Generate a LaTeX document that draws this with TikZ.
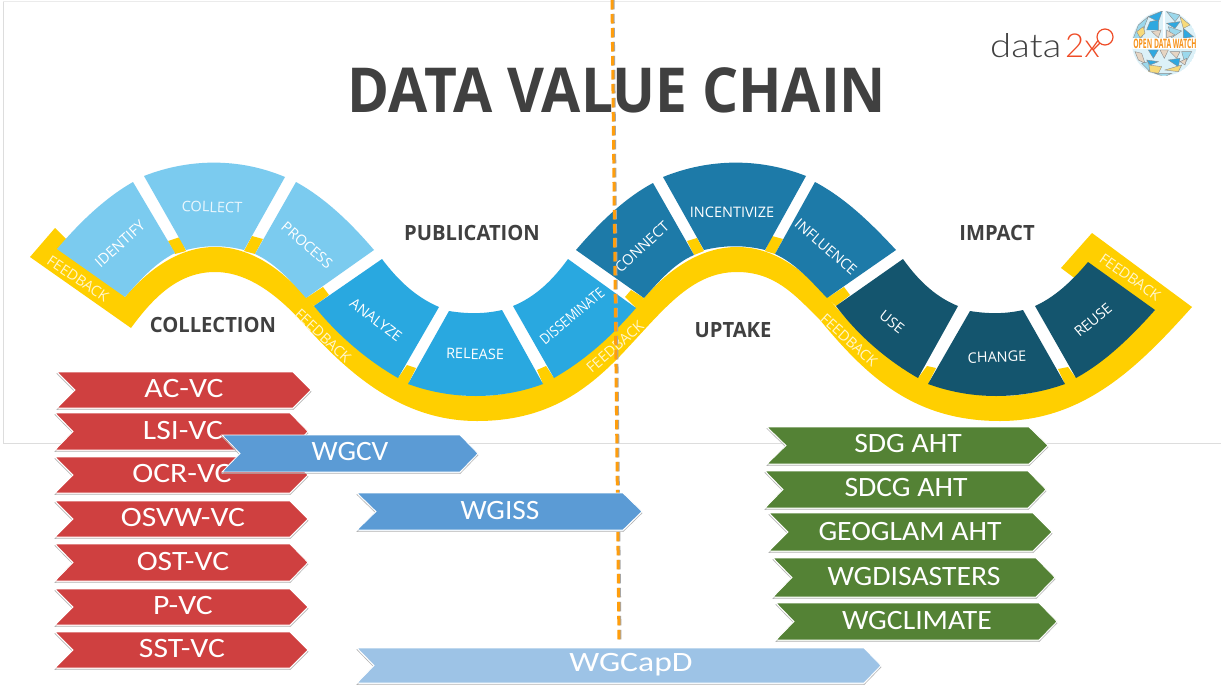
\documentclass[tikz,border=0pt]{standalone}
\usepackage{fontspec}
\usepackage{xcolor}
\usepackage{tikz}
\setmainfont{Open Sans}
\newfontfamily\carlitofont{Carlito}
\newfontfamily\latofont{Lato Light}
\definecolor{ink}{HTML}{404040}
\definecolor{frameline}{HTML}{DDDDDD}
\definecolor{gold}{HTML}{FFCF00}
\definecolor{paleband}{HTML}{FFF6CC}
\definecolor{skyseg}{HTML}{7BCBEF}
\definecolor{midseg}{HTML}{29A8E0}
\definecolor{deepseg}{HTML}{1D7AA8}
\definecolor{navyseg}{HTML}{14556E}
\definecolor{redchev}{HTML}{CF4040}
\definecolor{bluechev}{HTML}{5B9BD5}
\definecolor{palechev}{HTML}{9DC3E6}
\definecolor{greenchev}{HTML}{548235}
\definecolor{dashline}{HTML}{FF9E0D}
\definecolor{logored}{HTML}{EF4B26}
\definecolor{logoorange}{HTML}{F7941D}
\definecolor{logosky}{HTML}{9BD8EC}
\definecolor{logoblue}{HTML}{2FA8E0}
\definecolor{logoyellow}{HTML}{F7DA7A}
\definecolor{logobeige}{HTML}{E6D5C3}
\tikzset{
  every picture/.style={line join=miter},
  ribbon/.style={fill=gold},
  sky/.style={fill=skyseg},
  mid/.style={fill=midseg},
  deep/.style={fill=deepseg},
  navy/.style={fill=navyseg},
  logotri/.style={draw=black!45, line width=0.4pt},
  seglab/.style={text=white, font=\fontsize{14.5}{16}\selectfont, inner sep=0pt},
  bandlab/.style={text=paleband, font=\fontsize{14.5}{16}\selectfont, inner sep=0pt},
  stagelab/.style={text=ink, font=\fontsize{21}{22}\bfseries\selectfont, inner sep=0pt, xscale=0.96},
  chevlab/.style={text=white, font=\fontsize{28}{29}\carlitofont\selectfont, inner sep=0pt},
  chevshade/.style={draw=black!30, line width=0.6pt},
  chevred/.style={fill=redchev, draw=white, line width=0.8pt},
  chevblue/.style={fill=bluechev, draw=white, line width=0.8pt},
  chevpale/.style={fill=palechev, draw=white, line width=0.8pt},
  chevgreen/.style={fill=greenchev, draw=white, line width=0.8pt}
}
\newcommand{\ChevBox}[6]{%
  % #1 = style, #2 = left, #3 = tip, #4 = top, #5 = bottom, #6 = depth
  \pgfmathsetmacro{\ChevMid}{(#4+#5)/2}
  \draw[chevshade, yshift=-1.6pt] (#2,#4) -- ({#3-#6},#4) -- (#3,\ChevMid) -- ({#3-#6},#5) -- (#2,#5) -- ({#2+#6},\ChevMid) -- cycle;
  \draw[#1] (#2,#4) -- ({#3-#6},#4) -- (#3,\ChevMid) -- ({#3-#6},#5) -- (#2,#5) -- ({#2+#6},\ChevMid) -- cycle;
}

\begin{document}
\begin{tikzpicture}[x=1pt, y=-1pt]
  \useasboundingbox (0,0) rectangle (1225,685);
  \fill[white] (0,0) rectangle (1225,685);
  \draw[frameline, line width=0.8pt] (3,1) -- (3,443) -- (1221,443);
  \draw[frameline!60, line width=0.8pt] (3,1) -- (1221,1);

  % title
  \node[text=ink, font=\fontsize{62}{64}\bfseries\selectfont, inner sep=0pt, xscale=0.917] (title) at (617,90) {DATA VALUE CHAIN};

  % logos
  \node[text=ink, font=\fontsize{33}{34}\latofont\selectfont, inner sep=0pt, anchor=base west, xscale=1.16] (dataword) at (990,58) {data};
  \node[text=logored, font=\fontsize{33}{34}\latofont\selectfont, inner sep=0pt, anchor=base west] (twox) at (1065,58) {2x};
  \draw[logored, line width=1.2pt] (1105,37) circle (8);
  \draw[logored, line width=1.2pt] (1093,50) -- (1100,43);

  \begin{scope}[shift={(1125,5)}, x=0.3333pt, y=-0.3333pt]
    \begin{scope}
      \clip (118,115) circle (97);
      \fill[logosky!35] (118,115) circle (97);
      \filldraw[logotri, fill=logosky] (25,100) -- (40,60) -- (70,35) -- (60,60) -- (50,100) -- cycle;
      \filldraw[logotri, fill=logoyellow] (35,80) -- (55,65) -- (60,85) -- (45,98) -- cycle;
      \filldraw[logotri, fill=logoblue] (70,35) -- (112,18) -- (100,50) -- cycle;
      \filldraw[logotri, fill=logoblue] (75,50) -- (100,45) -- (100,75) -- (65,75) -- cycle;
      \filldraw[logotri, fill=logobeige] (80,80) -- (108,75) -- (100,98) -- cycle;
      \filldraw[logotri, fill=logosky] (125,20) -- (165,30) -- (150,50) -- cycle;
      \filldraw[logotri, fill=logoyellow] (165,35) -- (195,60) -- (175,70) -- cycle;
      \filldraw[logotri, fill=logoblue] (125,55) -- (165,50) -- (150,70) -- cycle;
      \filldraw[logotri, fill=logoblue] (175,70) -- (205,95) -- (175,100) -- cycle;
      \filldraw[logotri, fill=logosky] (130,65) -- (170,78) -- (140,98) -- cycle;
      \filldraw[logotri, fill=logobeige] (125,75) -- (150,90) -- (125,98) -- cycle;
      \filldraw[logotri, fill=logobeige] (30,140) -- (50,145) -- (60,175) -- (40,165) -- cycle;
      \filldraw[logotri, fill=logoblue] (70,135) -- (100,135) -- (85,160) -- cycle;
      \filldraw[logotri, fill=logoyellow] (70,180) -- (110,185) -- (100,205) -- (70,200) -- cycle;
      \filldraw[logotri, fill=logosky] (50,175) -- (70,170) -- (75,200) -- cycle;
      \filldraw[logotri, fill=logoblue] (65,165) -- (100,170) -- (75,180) -- cycle;
      \filldraw[logotri, fill=logobeige] (105,135) -- (130,135) -- (118,160) -- cycle;
      \filldraw[logotri, fill=logoblue] (130,165) -- (165,160) -- (160,185) -- cycle;
      \filldraw[logotri, fill=logoyellow] (120,195) -- (170,180) -- (160,200) -- cycle;
      \filldraw[logotri, fill=logosky] (170,140) -- (200,140) -- (180,175) -- cycle;
      \filldraw[logotri, fill=logobeige] (135,140) -- (165,140) -- (155,160) -- cycle;
      \filldraw[logotri, fill=logobeige] (165,170) -- (185,160) -- (180,180) -- cycle;
      \filldraw[logotri, fill=logosky] (90,205) -- (140,205) -- (118,215) -- cycle;
      \fill[white] (0,100) rectangle (240,132);
      \fill[white] (113,0) rectangle (120,100);
    \end{scope}
  \end{scope}
  \node[text=logoorange, font=\fontsize{13}{14}\bfseries\selectfont, inner sep=0pt, xscale=0.52] (odw) at (1165,44) {OPEN DATA WATCH};

  % ribbon
  \fill[ribbon] (55,228) -- (125,297) .. controls (150,268) and (180,247) .. (215,247)
    .. controls (250,247) and (280,268) .. (306,297) .. controls (345,340) and (395,396) .. (477,396)
    .. controls (555,396) and (600,345) .. (644,298) .. controls (670,268) and (702,247) .. (737,247)
    .. controls (772,247) and (802,268) .. (827,297) .. controls (865,340) and (915,396) .. (1000,396)
    .. controls (1075,396) and (1120,345) .. (1155,310) -- (1073,277) -- (1061,268) -- (1092,233) -- (1192,307)
    .. controls (1140,365) and (1085,421) .. (1000,421) .. controls (915,421) and (868,378) .. (820,320)
    .. controls (795,295) and (775,272) .. (737,272) .. controls (690,272) and (662,312) .. (620,356)
    .. controls (585,392) and (545,421) .. (477,421) .. controls (405,421) and (352,378) .. (303,323)
    .. controls (280,298) and (250,272) .. (215,272) .. controls (180,272) and (155,295) .. (131,328)
    -- (30,257) -- cycle;

  % tabs in the gaps
  \foreach \ax/\ay/\bx/\by/\cx/\cy/\dx/\dy in {
    168/241/180/237/186/251/175/254,
    252/236/263/239/255/254/244/251,
    323/287/329/295/314/306/306/298,
    407/365/416/368/408/384/398/378,
    537/370/546/366/554/378/543/384,
    625/297/631/290/644/298/636/308,
    687/241/697/238/704/251/694/255,
    772/236/783/239/775/254/765/251,
    844/287/850/295/836/306/827/298,
    927/366/936/368/928/384/918/378,
    1058/369/1068/367/1076/378/1065/384}{
    \fill[ribbon] (\ax,\ay) -- (\bx,\by) -- (\cx,\cy) -- (\dx,\dy) -- cycle;
  }

  % segments
  \fill[sky] (57,249) .. controls (80,222) and (105,198) .. (133,182) -- (175,253) .. controls (155,263) and (140,280) .. (125,297) -- cycle;
  \fill[sky] (144,176) .. controls (190,158) and (240,158) .. (285,177) -- (244,250) .. controls (225,245) and (205,245) .. (186,250) -- cycle;
  \fill[sky] (296,182) .. controls (325,198) and (350,222) .. (374,250) -- (306,298) .. controls (290,280) and (275,263) .. (255,254) -- cycle;
  \fill[mid] (382,259) .. controls (400,283) and (418,298) .. (439,307) -- (398,378) .. controls (370,362) and (340,338) .. (314,306) -- cycle;
  \fill[mid] (449,311) .. controls (467,314) and (485,314) .. (502,310) -- (543,384) .. controls (500,400) and (452,400) .. (408,384) -- cycle;
  \fill[mid] (513,306) .. controls (535,297) and (552,281) .. (568,259) -- (636,308) .. controls (610,338) and (585,360) .. (554,378) -- cycle;
  \fill[deep] (576,250) .. controls (600,222) and (625,198) .. (653,183) -- (694,255) .. controls (675,263) and (660,280) .. (644,298) -- cycle;
  \fill[deep] (663,177) .. controls (710,158) and (760,158) .. (806,176) -- (765,250) .. controls (745,245) and (725,245) .. (704,250) -- cycle;
  \fill[deep] (815,182) .. controls (845,198) and (870,222) .. (896,250) -- (827,298) .. controls (810,280) and (795,263) .. (775,254) -- cycle;
  \fill[navy] (903,259) .. controls (920,283) and (938,298) .. (958,306) -- (918,378) .. controls (890,362) and (860,338) .. (836,306) -- cycle;
  \fill[navy] (970,311) .. controls (988,314) and (1006,314) .. (1023,310) -- (1065,384) .. controls (1020,400) and (972,400) .. (928,384) -- cycle;
  \fill[navy] (1035,306) .. controls (1055,297) and (1072,281) .. (1088,262) -- (1155,310) .. controls (1130,338) and (1105,362) .. (1076,378) -- cycle;

  % segment labels
  \node[seglab, rotate=42] (identify) at (120,244) {IDENTIFY};
  \node[seglab, text=white!85!skyseg, rotate=-2] (collect) at (212,207) {COLLECT};
  \node[seglab, rotate=-41] (process) at (307,245) {PROCESS};
  \node[seglab, rotate=-37] (analyze) at (376,320) {ANALYZE};
  \node[seglab, rotate=-1] (release) at (475,354) {RELEASE};
  \node[seglab, rotate=40, xscale=0.87] (disseminate) at (572,316) {DISSEMINATE};
  \node[seglab, rotate=43] (connect) at (642,247) {CONNECT};
  \node[seglab] (incentivize) at (732,212) {INCENTIVIZE};
  \node[seglab, rotate=-41] (influence) at (826,247) {INFLUENCE};
  \node[seglab, rotate=-38] (use) at (892,322) {USE};
  \node[seglab, rotate=2] (change) at (997,357) {CHANGE};
  \node[seglab, rotate=40] (reuse) at (1093,320) {REUSE};

  % feedback labels
  \node[bandlab, rotate=-34] (fbone) at (78,279) {FEEDBACK};
  \node[bandlab, rotate=-43] (fbtwo) at (323,336) {FEEDBACK};
  \node[bandlab, rotate=41] (fbthree) at (615,347) {FEEDBACK};
  \node[bandlab, rotate=-42] (fbfour) at (849,340) {FEEDBACK};
  \node[bandlab, rotate=-35] (fbfive) at (1130,277) {FEEDBACK};

  % stage labels
  \node[stagelab] (collection) at (213,325) {COLLECTION};
  \node[stagelab] (publication) at (472,233) {PUBLICATION};
  \node[stagelab] (uptake) at (733,330) {UPTAKE};
  \node[stagelab] (impact) at (997,233) {IMPACT};

  % split line
  \draw[black!35, line width=3pt, dash pattern=on 9.5pt off 4.5pt] (613,0) -- (620,643);
  \draw[dashline, line width=3pt, dash pattern=on 9.5pt off 4.5pt] (612,0) -- (619,643);

  % red chevrons
  \ChevBox{chevred}{57}{311}{372}{408}{18}
  \ChevBox{chevred}{55}{308}{413}{450}{18}
  \ChevBox{chevred}{55}{308}{457}{493}{18}
  \ChevBox{chevred}{55}{308}{501}{537}{18}
  \ChevBox{chevred}{55}{308}{544}{581}{18}
  \ChevBox{chevred}{55}{308}{589}{625}{18}
  \ChevBox{chevred}{55}{308}{632}{668}{18}
  \node[chevlab, xscale=1.13] (acvc) at (184,389) {AC-VC};
  \node[chevlab, xscale=1.13] (lsivc) at (183,431) {LSI-VC};
  \node[chevlab, xscale=1.13] (ocrvc) at (182,474) {OCR-VC};
  \node[chevlab, xscale=1.13] (osvwvc) at (183,518) {OSVW-VC};
  \node[chevlab, xscale=1.13] (ostvc) at (183,562) {OST-VC};
  \node[chevlab, xscale=1.13] (pvc) at (183,606) {P-VC};
  \node[chevlab, xscale=1.13] (sstvc) at (182,649) {SST-VC};

  % blue chevrons
  \ChevBox{chevblue}{222}{478}{435}{472}{18}
  \ChevBox{chevblue}{357}{642}{493}{530}{19}
  \ChevBox{chevpale}{357}{881}{648}{683}{17}
  \node[chevlab, xscale=1.05] (wgcv) at (350,452) {WGCV};
  \node[chevlab, xscale=1.05] (wgiss) at (500,511) {WGISS};
  \node[chevlab, xscale=1.2] (wgcapd) at (631,665) {WGCapD};

  % green chevrons
  \ChevBox{chevgreen}{767}{1048}{427}{464}{19}
  \ChevBox{chevgreen}{765}{1046}{471}{508}{18}
  \ChevBox{chevgreen}{769}{1052}{513}{551}{19}
  \ChevBox{chevgreen}{773}{1055}{558}{597}{19}
  \ChevBox{chevgreen}{776}{1057}{603}{640}{18}
  \node[chevlab, xscale=1.06] (sdgaht) at (908,444) {SDG AHT};
  \node[chevlab, xscale=1.06] (sdcgaht) at (906,488) {SDCG AHT};
  \node[chevlab, xscale=1.06] (geoglam) at (910,532) {GEOGLAM AHT};
  \node[chevlab, xscale=1.06] (wgdisasters) at (914,577) {WGDISASTERS};
  \node[chevlab, xscale=1.06] (wgclimate) at (917,621) {WGCLIMATE};
\end{tikzpicture}
\end{document}
